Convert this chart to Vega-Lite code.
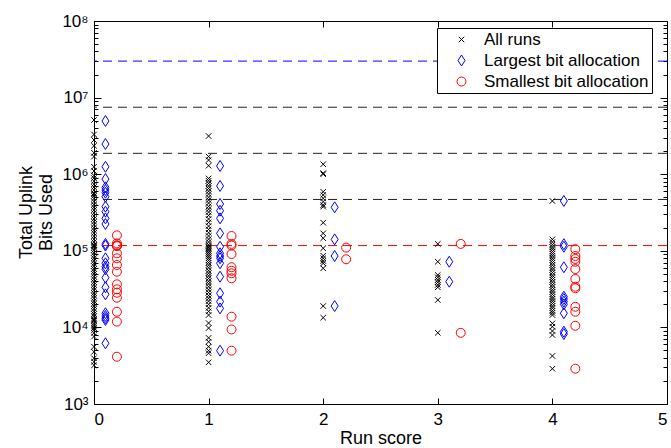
{
  "$schema": "https://vega.github.io/schema/vega-lite/v6.json",
  "width": 573,
  "height": 383,
  "autosize": "none",
  "padding": {"left": 94, "top": 21, "right": 4, "bottom": 44},
  "background": "white",
  "config": {
    "font": "Liberation Sans",
    "view": {"stroke": "black", "strokeWidth": 1},
    "axis": {"labelColor": "black", "titleColor": "black", "grid": false, "domain": false, "titleFontWeight": "normal", "labelFont": "Liberation Sans", "titleFont": "Liberation Sans"}
  },
  "datasets": {
    "runs": [
      {"series": "All runs", "x": 0, "bits": 5100000}, {"series": "All runs", "x": 0, "bits": 3300000}, {"series": "All runs", "x": 0, "bits": 2800000}, {"series": "All runs", "x": 0, "bits": 2350000}, {"series": "All runs", "x": 0, "bits": 1900000}, {"series": "All runs", "x": 0, "bits": 1700000}, {"series": "All runs", "x": 0, "bits": 1250000}, {"series": "All runs", "x": 0, "bits": 1100000}, {"series": "All runs", "x": 0, "bits": 960000}, {"series": "All runs", "x": 0, "bits": 890000}, {"series": "All runs", "x": 0, "bits": 810000}, {"series": "All runs", "x": 0, "bits": 740000}, {"series": "All runs", "x": 0, "bits": 680000}, {"series": "All runs", "x": 0, "bits": 620000}, {"series": "All runs", "x": 0, "bits": 570000}, {"series": "All runs", "x": 0, "bits": 550000}, {"series": "All runs", "x": 0, "bits": 520000}, {"series": "All runs", "x": 0, "bits": 480000}, {"series": "All runs", "x": 0, "bits": 440000}, {"series": "All runs", "x": 0, "bits": 400000}, {"series": "All runs", "x": 0, "bits": 370000}, {"series": "All runs", "x": 0, "bits": 340000}, {"series": "All runs", "x": 0, "bits": 310000}, {"series": "All runs", "x": 0, "bits": 285000}, {"series": "All runs", "x": 0, "bits": 260000}, {"series": "All runs", "x": 0, "bits": 240000}, {"series": "All runs", "x": 0, "bits": 220000}, {"series": "All runs", "x": 0, "bits": 200000}, {"series": "All runs", "x": 0, "bits": 185000}, {"series": "All runs", "x": 0, "bits": 170000}, {"series": "All runs", "x": 0, "bits": 155000}, {"series": "All runs", "x": 0, "bits": 142000}, {"series": "All runs", "x": 0, "bits": 130000}, {"series": "All runs", "x": 0, "bits": 120000}, {"series": "All runs", "x": 0, "bits": 118000}, {"series": "All runs", "x": 0, "bits": 115000}, {"series": "All runs", "x": 0, "bits": 110000}, {"series": "All runs", "x": 0, "bits": 102000}, {"series": "All runs", "x": 0, "bits": 94000}, {"series": "All runs", "x": 0, "bits": 87000}, {"series": "All runs", "x": 0, "bits": 80000}, {"series": "All runs", "x": 0, "bits": 74000}, {"series": "All runs", "x": 0, "bits": 68000}, {"series": "All runs", "x": 0, "bits": 63000}, {"series": "All runs", "x": 0, "bits": 58000}, {"series": "All runs", "x": 0, "bits": 54000}, {"series": "All runs", "x": 0, "bits": 50000}, {"series": "All runs", "x": 0, "bits": 46000}, {"series": "All runs", "x": 0, "bits": 42500}, {"series": "All runs", "x": 0, "bits": 39000}, {"series": "All runs", "x": 0, "bits": 36000}, {"series": "All runs", "x": 0, "bits": 33000}, {"series": "All runs", "x": 0, "bits": 30500}, {"series": "All runs", "x": 0, "bits": 28000}, {"series": "All runs", "x": 0, "bits": 26000}, {"series": "All runs", "x": 0, "bits": 24000}, {"series": "All runs", "x": 0, "bits": 22000}, {"series": "All runs", "x": 0, "bits": 20500}, {"series": "All runs", "x": 0, "bits": 19000}, {"series": "All runs", "x": 0, "bits": 17500}, {"series": "All runs", "x": 0, "bits": 16200}, {"series": "All runs", "x": 0, "bits": 15000}, {"series": "All runs", "x": 0, "bits": 14000}, {"series": "All runs", "x": 0, "bits": 13000}, {"series": "All runs", "x": 0, "bits": 12500}, {"series": "All runs", "x": 0, "bits": 12000}, {"series": "All runs", "x": 0, "bits": 11200}, {"series": "All runs", "x": 0, "bits": 10500}, {"series": "All runs", "x": 0, "bits": 9800}, {"series": "All runs", "x": 0, "bits": 9200}, {"series": "All runs", "x": 0, "bits": 8500}, {"series": "All runs", "x": 0, "bits": 7600}, {"series": "All runs", "x": 0, "bits": 5600}, {"series": "All runs", "x": 0, "bits": 4800}, {"series": "All runs", "x": 0, "bits": 3950}, {"series": "All runs", "x": 0, "bits": 3560}, {"series": "All runs", "x": 0, "bits": 3200},

      {"series": "All runs", "x": 1, "bits": 3150000}, {"series": "All runs", "x": 1, "bits": 1700000}, {"series": "All runs", "x": 1, "bits": 1530000}, {"series": "All runs", "x": 1, "bits": 1290000}, {"series": "All runs", "x": 1, "bits": 880000}, {"series": "All runs", "x": 1, "bits": 820000}, {"series": "All runs", "x": 1, "bits": 760000}, {"series": "All runs", "x": 1, "bits": 700000}, {"series": "All runs", "x": 1, "bits": 650000}, {"series": "All runs", "x": 1, "bits": 600000}, {"series": "All runs", "x": 1, "bits": 550000}, {"series": "All runs", "x": 1, "bits": 500000}, {"series": "All runs", "x": 1, "bits": 460000}, {"series": "All runs", "x": 1, "bits": 420000}, {"series": "All runs", "x": 1, "bits": 380000}, {"series": "All runs", "x": 1, "bits": 350000}, {"series": "All runs", "x": 1, "bits": 320000}, {"series": "All runs", "x": 1, "bits": 290000}, {"series": "All runs", "x": 1, "bits": 260000}, {"series": "All runs", "x": 1, "bits": 235000}, {"series": "All runs", "x": 1, "bits": 210000}, {"series": "All runs", "x": 1, "bits": 190000}, {"series": "All runs", "x": 1, "bits": 172000}, {"series": "All runs", "x": 1, "bits": 156000}, {"series": "All runs", "x": 1, "bits": 142000}, {"series": "All runs", "x": 1, "bits": 130000}, {"series": "All runs", "x": 1, "bits": 120000}, {"series": "All runs", "x": 1, "bits": 115000}, {"series": "All runs", "x": 1, "bits": 110000}, {"series": "All runs", "x": 1, "bits": 105000}, {"series": "All runs", "x": 1, "bits": 100000}, {"series": "All runs", "x": 1, "bits": 95000}, {"series": "All runs", "x": 1, "bits": 90000}, {"series": "All runs", "x": 1, "bits": 85000}, {"series": "All runs", "x": 1, "bits": 80000}, {"series": "All runs", "x": 1, "bits": 75000}, {"series": "All runs", "x": 1, "bits": 70000}, {"series": "All runs", "x": 1, "bits": 65000}, {"series": "All runs", "x": 1, "bits": 60000}, {"series": "All runs", "x": 1, "bits": 55000}, {"series": "All runs", "x": 1, "bits": 51000}, {"series": "All runs", "x": 1, "bits": 47000}, {"series": "All runs", "x": 1, "bits": 43500}, {"series": "All runs", "x": 1, "bits": 40000}, {"series": "All runs", "x": 1, "bits": 37000}, {"series": "All runs", "x": 1, "bits": 34000}, {"series": "All runs", "x": 1, "bits": 31000}, {"series": "All runs", "x": 1, "bits": 28500}, {"series": "All runs", "x": 1, "bits": 26000}, {"series": "All runs", "x": 1, "bits": 24000}, {"series": "All runs", "x": 1, "bits": 22000}, {"series": "All runs", "x": 1, "bits": 20000}, {"series": "All runs", "x": 1, "bits": 18000}, {"series": "All runs", "x": 1, "bits": 16200}, {"series": "All runs", "x": 1, "bits": 14500}, {"series": "All runs", "x": 1, "bits": 11400}, {"series": "All runs", "x": 1, "bits": 9800}, {"series": "All runs", "x": 1, "bits": 7300}, {"series": "All runs", "x": 1, "bits": 6500}, {"series": "All runs", "x": 1, "bits": 5600}, {"series": "All runs", "x": 1, "bits": 4970}, {"series": "All runs", "x": 1, "bits": 4600}, {"series": "All runs", "x": 1, "bits": 3500},

      {"series": "All runs", "x": 2, "bits": 1350000}, {"series": "All runs", "x": 2, "bits": 1030000}, {"series": "All runs", "x": 2, "bits": 1000000}, {"series": "All runs", "x": 2, "bits": 590000}, {"series": "All runs", "x": 2, "bits": 535000}, {"series": "All runs", "x": 2, "bits": 484000}, {"series": "All runs", "x": 2, "bits": 438000}, {"series": "All runs", "x": 2, "bits": 396000}, {"series": "All runs", "x": 2, "bits": 377000}, {"series": "All runs", "x": 2, "bits": 233000}, {"series": "All runs", "x": 2, "bits": 169000}, {"series": "All runs", "x": 2, "bits": 146000}, {"series": "All runs", "x": 2, "bits": 108000}, {"series": "All runs", "x": 2, "bits": 86300}, {"series": "All runs", "x": 2, "bits": 79800}, {"series": "All runs", "x": 2, "bits": 73600}, {"series": "All runs", "x": 2, "bits": 68700}, {"series": "All runs", "x": 2, "bits": 59100}, {"series": "All runs", "x": 2, "bits": 19000}, {"series": "All runs", "x": 2, "bits": 13400},

      {"series": "All runs", "x": 3, "bits": 123000}, {"series": "All runs", "x": 3, "bits": 72000}, {"series": "All runs", "x": 3, "bits": 48300}, {"series": "All runs", "x": 3, "bits": 45000}, {"series": "All runs", "x": 3, "bits": 41600}, {"series": "All runs", "x": 3, "bits": 38800}, {"series": "All runs", "x": 3, "bits": 35800}, {"series": "All runs", "x": 3, "bits": 33400}, {"series": "All runs", "x": 3, "bits": 22800}, {"series": "All runs", "x": 3, "bits": 8500},

      {"series": "All runs", "x": 4, "bits": 447000}, {"series": "All runs", "x": 4, "bits": 141000}, {"series": "All runs", "x": 4, "bits": 130000}, {"series": "All runs", "x": 4, "bits": 120000}, {"series": "All runs", "x": 4, "bits": 112000}, {"series": "All runs", "x": 4, "bits": 105000}, {"series": "All runs", "x": 4, "bits": 98000}, {"series": "All runs", "x": 4, "bits": 92000}, {"series": "All runs", "x": 4, "bits": 86000}, {"series": "All runs", "x": 4, "bits": 80000}, {"series": "All runs", "x": 4, "bits": 75000}, {"series": "All runs", "x": 4, "bits": 70000}, {"series": "All runs", "x": 4, "bits": 65000}, {"series": "All runs", "x": 4, "bits": 60000}, {"series": "All runs", "x": 4, "bits": 56000}, {"series": "All runs", "x": 4, "bits": 52000}, {"series": "All runs", "x": 4, "bits": 48000}, {"series": "All runs", "x": 4, "bits": 45000}, {"series": "All runs", "x": 4, "bits": 42000}, {"series": "All runs", "x": 4, "bits": 39000}, {"series": "All runs", "x": 4, "bits": 36000}, {"series": "All runs", "x": 4, "bits": 33500}, {"series": "All runs", "x": 4, "bits": 31000}, {"series": "All runs", "x": 4, "bits": 29000}, {"series": "All runs", "x": 4, "bits": 27000}, {"series": "All runs", "x": 4, "bits": 25000}, {"series": "All runs", "x": 4, "bits": 23500}, {"series": "All runs", "x": 4, "bits": 22000}, {"series": "All runs", "x": 4, "bits": 20500}, {"series": "All runs", "x": 4, "bits": 19000}, {"series": "All runs", "x": 4, "bits": 17800}, {"series": "All runs", "x": 4, "bits": 16500}, {"series": "All runs", "x": 4, "bits": 15500}, {"series": "All runs", "x": 4, "bits": 14500}, {"series": "All runs", "x": 4, "bits": 11300}, {"series": "All runs", "x": 4, "bits": 10200}, {"series": "All runs", "x": 4, "bits": 8970}, {"series": "All runs", "x": 4, "bits": 7960}, {"series": "All runs", "x": 4, "bits": 4240}, {"series": "All runs", "x": 4, "bits": 2890},

      {"series": "Largest bit allocation", "x": 0.1, "bits": 4950000}, {"series": "Largest bit allocation", "x": 0.1, "bits": 2480000}, {"series": "Largest bit allocation", "x": 0.1, "bits": 1250000}, {"series": "Largest bit allocation", "x": 0.1, "bits": 865000}, {"series": "Largest bit allocation", "x": 0.1, "bits": 674000}, {"series": "Largest bit allocation", "x": 0.1, "bits": 622000}, {"series": "Largest bit allocation", "x": 0.1, "bits": 573000}, {"series": "Largest bit allocation", "x": 0.1, "bits": 508000}, {"series": "Largest bit allocation", "x": 0.1, "bits": 377000}, {"series": "Largest bit allocation", "x": 0.1, "bits": 324000}, {"series": "Largest bit allocation", "x": 0.1, "bits": 265000}, {"series": "Largest bit allocation", "x": 0.1, "bits": 224000}, {"series": "Largest bit allocation", "x": 0.1, "bits": 123000}, {"series": "Largest bit allocation", "x": 0.1, "bits": 117000}, {"series": "Largest bit allocation", "x": 0.1, "bits": 79800}, {"series": "Largest bit allocation", "x": 0.1, "bits": 68700}, {"series": "Largest bit allocation", "x": 0.1, "bits": 62000}, {"series": "Largest bit allocation", "x": 0.1, "bits": 57400}, {"series": "Largest bit allocation", "x": 0.1, "bits": 44600}, {"series": "Largest bit allocation", "x": 0.1, "bits": 33400}, {"series": "Largest bit allocation", "x": 0.1, "bits": 27000}, {"series": "Largest bit allocation", "x": 0.1, "bits": 15300}, {"series": "Largest bit allocation", "x": 0.1, "bits": 14100}, {"series": "Largest bit allocation", "x": 0.1, "bits": 13200}, {"series": "Largest bit allocation", "x": 0.1, "bits": 12500}, {"series": "Largest bit allocation", "x": 0.1, "bits": 6200},
      {"series": "Largest bit allocation", "x": 1.1, "bits": 1280000}, {"series": "Largest bit allocation", "x": 1.1, "bits": 702000}, {"series": "Largest bit allocation", "x": 1.1, "bits": 408000}, {"series": "Largest bit allocation", "x": 1.1, "bits": 334000}, {"series": "Largest bit allocation", "x": 1.1, "bits": 265000}, {"series": "Largest bit allocation", "x": 1.1, "bits": 169000}, {"series": "Largest bit allocation", "x": 1.1, "bits": 113000}, {"series": "Largest bit allocation", "x": 1.1, "bits": 92700}, {"series": "Largest bit allocation", "x": 1.1, "bits": 85500}, {"series": "Largest bit allocation", "x": 1.1, "bits": 79800}, {"series": "Largest bit allocation", "x": 1.1, "bits": 68700}, {"series": "Largest bit allocation", "x": 1.1, "bits": 45900}, {"series": "Largest bit allocation", "x": 1.1, "bits": 27900}, {"series": "Largest bit allocation", "x": 1.1, "bits": 21700}, {"series": "Largest bit allocation", "x": 1.1, "bits": 17700}, {"series": "Largest bit allocation", "x": 1.1, "bits": 4970},
      {"series": "Largest bit allocation", "x": 2.1, "bits": 370000}, {"series": "Largest bit allocation", "x": 2.1, "bits": 141000}, {"series": "Largest bit allocation", "x": 2.1, "bits": 85500}, {"series": "Largest bit allocation", "x": 2.1, "bits": 19000},
      {"series": "Largest bit allocation", "x": 3.1, "bits": 72000}, {"series": "Largest bit allocation", "x": 3.1, "bits": 39500},
      {"series": "Largest bit allocation", "x": 4.1, "bits": 447000}, {"series": "Largest bit allocation", "x": 4.1, "bits": 122000}, {"series": "Largest bit allocation", "x": 4.1, "bits": 113000}, {"series": "Largest bit allocation", "x": 4.1, "bits": 61000}, {"series": "Largest bit allocation", "x": 4.1, "bits": 25200}, {"series": "Largest bit allocation", "x": 4.1, "bits": 23500}, {"series": "Largest bit allocation", "x": 4.1, "bits": 21700}, {"series": "Largest bit allocation", "x": 4.1, "bits": 20000}, {"series": "Largest bit allocation", "x": 4.1, "bits": 15300}, {"series": "Largest bit allocation", "x": 4.1, "bits": 8800}, {"series": "Largest bit allocation", "x": 4.1, "bits": 8200},

      {"series": "Smallest bit allocation", "x": 0.2, "bits": 159000}, {"series": "Smallest bit allocation", "x": 0.2, "bits": 125000}, {"series": "Smallest bit allocation", "x": 0.2, "bits": 118000}, {"series": "Smallest bit allocation", "x": 0.2, "bits": 117000}, {"series": "Smallest bit allocation", "x": 0.2, "bits": 115000}, {"series": "Smallest bit allocation", "x": 0.2, "bits": 92700}, {"series": "Smallest bit allocation", "x": 0.2, "bits": 79800}, {"series": "Smallest bit allocation", "x": 0.2, "bits": 65300}, {"series": "Smallest bit allocation", "x": 0.2, "bits": 53300}, {"series": "Smallest bit allocation", "x": 0.2, "bits": 36500}, {"series": "Smallest bit allocation", "x": 0.2, "bits": 31400}, {"series": "Smallest bit allocation", "x": 0.2, "bits": 28400}, {"series": "Smallest bit allocation", "x": 0.2, "bits": 24400}, {"series": "Smallest bit allocation", "x": 0.2, "bits": 16000}, {"series": "Smallest bit allocation", "x": 0.2, "bits": 11900}, {"series": "Smallest bit allocation", "x": 0.2, "bits": 4140},
      {"series": "Smallest bit allocation", "x": 1.2, "bits": 156000}, {"series": "Smallest bit allocation", "x": 1.2, "bits": 123000}, {"series": "Smallest bit allocation", "x": 1.2, "bits": 117000}, {"series": "Smallest bit allocation", "x": 1.2, "bits": 90800}, {"series": "Smallest bit allocation", "x": 1.2, "bits": 61000}, {"series": "Smallest bit allocation", "x": 1.2, "bits": 55000}, {"series": "Smallest bit allocation", "x": 1.2, "bits": 50800}, {"series": "Smallest bit allocation", "x": 1.2, "bits": 43800}, {"series": "Smallest bit allocation", "x": 1.2, "bits": 13800}, {"series": "Smallest bit allocation", "x": 1.2, "bits": 9400}, {"series": "Smallest bit allocation", "x": 1.2, "bits": 4970},
      {"series": "Smallest bit allocation", "x": 2.2, "bits": 110000}, {"series": "Smallest bit allocation", "x": 2.2, "bits": 77500},
      {"series": "Smallest bit allocation", "x": 3.2, "bits": 123000}, {"series": "Smallest bit allocation", "x": 3.2, "bits": 8500},
      {"series": "Smallest bit allocation", "x": 4.2, "bits": 105000}, {"series": "Smallest bit allocation", "x": 4.2, "bits": 85500}, {"series": "Smallest bit allocation", "x": 4.2, "bits": 78200}, {"series": "Smallest bit allocation", "x": 4.2, "bits": 72000}, {"series": "Smallest bit allocation", "x": 4.2, "bits": 57800}, {"series": "Smallest bit allocation", "x": 4.2, "bits": 42900}, {"series": "Smallest bit allocation", "x": 4.2, "bits": 34000}, {"series": "Smallest bit allocation", "x": 4.2, "bits": 32400}, {"series": "Smallest bit allocation", "x": 4.2, "bits": 18600}, {"series": "Smallest bit allocation", "x": 4.2, "bits": 16000}, {"series": "Smallest bit allocation", "x": 4.2, "bits": 10500}, {"series": "Smallest bit allocation", "x": 4.2, "bits": 2890}
    ]
  },
  "layer": [
    {
      "data": {"values": [{"level": 29952000}]},
      "mark": {"type": "rule", "color": "#0000ff", "strokeDash": [9, 6], "strokeWidth": 1},
      "encoding": {"y": {"field": "level", "type": "quantitative", "scale": {"type": "log", "domain": [1000, 100000000], "nice": false}, "axis": null}}
    },
    {
      "data": {"values": [{"level": 7488000}, {"level": 1872000}, {"level": 468000}]},
      "mark": {"type": "rule", "color": "#222222", "strokeDash": [9, 6], "strokeWidth": 1},
      "encoding": {"y": {"field": "level", "type": "quantitative", "scale": {"type": "log", "domain": [1000, 100000000], "nice": false}, "axis": null}}
    },
    {
      "data": {"values": [{"level": 117000}]},
      "mark": {"type": "rule", "color": "#ff0000", "strokeDash": [9, 6], "strokeWidth": 1},
      "encoding": {"y": {"field": "level", "type": "quantitative", "scale": {"type": "log", "domain": [1000, 100000000], "nice": false}, "axis": null}}
    },
    {
      "data": {"name": "runs"},
      "mark": {"type": "point", "opacity": 0, "clip": false},
      "encoding": {
        "x": {"field": "x", "type": "quantitative", "scale": {"domain": [0, 5], "nice": false, "zero": false},
          "axis": {"orient": "top", "values": [0, 1, 2, 3, 4, 5], "labels": false, "title": null, "tickColor": "#000000", "tickWidth": 1, "tickSize": 6, "offset": -6}},
        "y": {"field": "bits", "type": "quantitative", "scale": {"type": "log", "domain": [1000, 100000000], "nice": false},
          "axis": {"orient": "right", "labels": false, "title": null, "tickColor": "#000000", "tickWidth": 1, "values": [1000, 10000, 100000, 1000000, 10000000, 100000000], "tickSize": 7, "offset": -7}}
      }
    },
    {
      "data": {"name": "runs"},
      "mark": {"type": "point", "opacity": 0, "clip": false},
      "encoding": {
        "x": {"field": "x", "type": "quantitative", "scale": {"domain": [0, 5], "nice": false, "zero": false}, "axis": null},
        "y": {"field": "bits", "type": "quantitative", "scale": {"type": "log", "domain": [1000, 100000000], "nice": false},
          "axis": {"orient": "right", "labels": false, "title": null, "tickColor": "#000000", "tickWidth": 1, "tickSize": 4, "offset": -4,
            "values": [2000, 3000, 4000, 5000, 6000, 7000, 8000, 9000, 20000, 30000, 40000, 50000, 60000, 70000, 80000, 90000, 200000, 300000, 400000, 500000, 600000, 700000, 800000, 900000, 2000000, 3000000, 4000000, 5000000, 6000000, 7000000, 8000000, 9000000, 20000000, 30000000, 40000000, 50000000, 60000000, 70000000, 80000000, 90000000]}}
      }
    },
    {
      "data": {"name": "runs"},
      "mark": {"type": "point", "opacity": 0, "clip": false},
      "encoding": {
        "x": {"field": "x", "type": "quantitative", "scale": {"domain": [0, 5], "nice": false, "zero": false}, "axis": null},
        "y": {"field": "bits", "type": "quantitative", "scale": {"type": "log", "domain": [1000, 100000000], "nice": false},
          "axis": {"orient": "left", "labels": false, "title": null, "tickColor": "#000000", "tickWidth": 1, "tickSize": 4, "offset": -4,
            "values": [2000, 3000, 4000, 5000, 6000, 7000, 8000, 9000, 20000, 30000, 40000, 50000, 60000, 70000, 80000, 90000, 200000, 300000, 400000, 500000, 600000, 700000, 800000, 900000, 2000000, 3000000, 4000000, 5000000, 6000000, 7000000, 8000000, 9000000, 20000000, 30000000, 40000000, 50000000, 60000000, 70000000, 80000000, 90000000]}}
      }
    },
    {
      "data": {"name": "runs"},
      "mark": {"type": "point", "filled": false, "strokeWidth": 1, "opacity": 1, "size": 120, "clip": false},
      "encoding": {
        "x": {"field": "x", "type": "quantitative", "scale": {"domain": [0, 5], "nice": false, "zero": false},
          "axis": {"orient": "bottom", "values": [0, 1, 2, 3, 4, 5], "title": "Run score", "tickColor": "#000000", "tickWidth": 1, "tickSize": 6, "offset": -6, "labelFontSize": 17, "titleFontSize": 18, "labelPadding": 7, "titlePadding": 2}},
        "y": {"field": "bits", "type": "quantitative", "scale": {"type": "log", "domain": [1000, 100000000], "nice": false},
          "axis": {"orient": "left", "title": ["Total Uplink", "Bits Used"], "titleFontSize": 18, "labelFontSize": 17, "labelPadding": 6, "tickColor": "#000000", "tickWidth": 1, "tickSize": 7, "offset": -7,
            "titleX": -66, "titleY": 191, "titleAngle": 270, "titleAlign": "center", "titleBaseline": "bottom",
            "values": [1000, 10000, 100000, 1000000, 10000000, 100000000],
            "labelExpr": "'10' + substring('⁰¹²³⁴⁵⁶⁷⁸⁹', round(log(datum.value)/LN10), round(log(datum.value)/LN10) + 1)"}},
        "color": {"field": "series", "type": "nominal",
          "scale": {"domain": ["All runs", "Largest bit allocation", "Smallest bit allocation"], "range": ["#000000", "#0000ff", "#ff0000"]},
          "legend": {"title": null, "orient": "none", "legendX": 343, "legendY": 7, "strokeColor": "black", "fillColor": "white", "padding": 3, "rowPadding": 3, "symbolOffset": 13, "labelOffset": 14, "labelFontSize": 17, "labelColor": "black", "labelLimit": 400, "symbolSize": 120, "symbolStrokeWidth": 1}},
        "shape": {"field": "series", "type": "nominal",
          "scale": {"domain": ["All runs", "Largest bit allocation", "Smallest bit allocation"], "range": ["M-0.5,-0.5L0.5,0.5M-0.5,0.5L0.5,-0.5", "M0,-1L0.64,0L0,1L-0.64,0Z", "M-0.82,0A0.82,0.82 0 1,0 0.82,0A0.82,0.82 0 1,0 -0.82,0Z"]},
          "legend": {"title": null, "orient": "none", "legendX": 343, "legendY": 7, "strokeColor": "black", "fillColor": "white", "padding": 3, "rowPadding": 3, "symbolOffset": 13, "labelOffset": 14, "labelFontSize": 17, "labelColor": "black", "labelLimit": 400, "symbolSize": 120, "symbolStrokeWidth": 1}}
      }
    }
  ],
  "resolve": {"axis": {"x": "independent", "y": "independent"}, "scale": {"x": "shared", "y": "shared"}}
}
